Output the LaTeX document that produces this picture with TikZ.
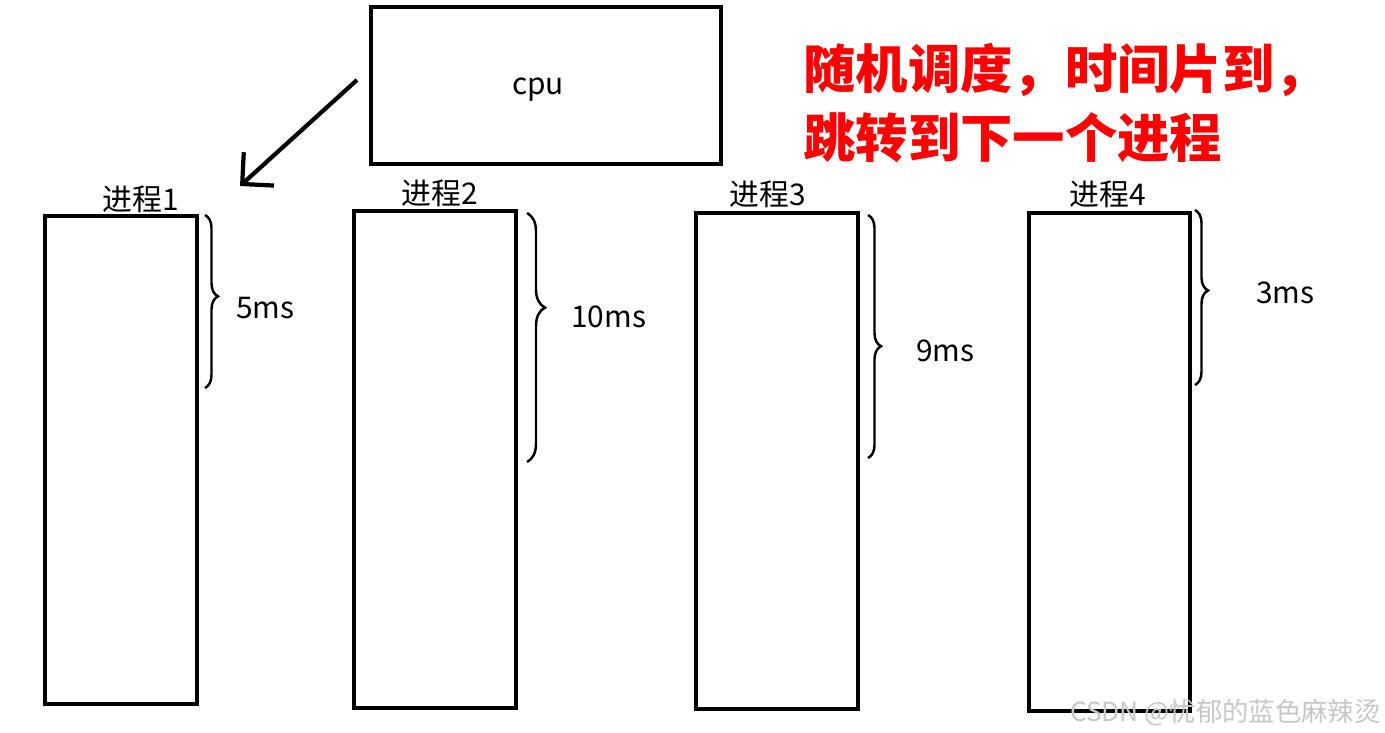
\documentclass[tikz,border=0pt]{standalone}
\usepackage{fontspec}
\setmainfont{Noto Sans CJK SC}
\usetikzlibrary{arrows.meta,decorations.pathreplacing}

\begin{document}
\begin{tikzpicture}[
    x=0.02cm, y=-0.02cm,
    box/.style={draw, line width=2.4pt, anchor=north west, inner sep=0pt},
    proclabel/.style={font=\fontsize{17}{20}\selectfont, anchor=base, inner sep=0pt},
    span/.style={decorate, decoration={brace, amplitude=0.26cm, #1}, line width=1.4pt},
    mslabel/.style={font=\fontsize{17}{20}\selectfont, anchor=base west, inner sep=0pt},
    notetext/.style={font=\fontsize{29.8}{38}\selectfont\bfseries, text=red, anchor=base west, inner sep=0pt},
    arrow/.style={-{Straight Barb[length=4.5mm, width=9mm]}, line width=2.4pt}
]
\path[use as bounding box] (0,0) rectangle (1385,733);

% CPU
\node[box, minimum width=7cm, minimum height=3.14cm] (cpu) at (369,5) {};
\node[font=\fontsize{17}{20}\selectfont, anchor=base] (cpulabel) at (538,95) {cpu};

% Processes
\node[box, minimum width=3.04cm, minimum height=9.76cm] (p1) at (43,214) {};
\node[box, minimum width=3.24cm, minimum height=9.94cm] (p2) at (352,209) {};
\node[box, minimum width=3.24cm, minimum height=9.92cm] (p3) at (694,211) {};
\node[box, minimum width=3.22cm, minimum height=9.96cm] (p4) at (1027,211) {};

\node[proclabel] (t1) at (141,211) {进程1};
\node[proclabel] (t2) at (440,205) {进程2};
\node[proclabel] (t3) at (768,206) {进程3};
\node[proclabel] (t4) at (1108,206) {进程4};

% Time slices
\coordinate (s1) at (205,215);  \coordinate (e1) at (205,388);
\coordinate (s2) at (527,213);  \coordinate (e2) at (527,462);
\coordinate (s3) at (868,215);  \coordinate (e3) at (868,458);
\coordinate (s4) at (1195,210); \coordinate (e4) at (1195,385);
\draw[span={aspect=0.47}] (s1) -- (e1);
\draw[span={aspect=0.38, amplitude=0.36cm}] (s2) -- (e2);
\draw[span={aspect=0.54}] (s3) -- (e3);
\draw[span={aspect=0.46}] (s4) -- (e4);

\node[mslabel] (ms1) at (236,318) {5ms};
\node[mslabel] (ms2) at (571,327) {10ms};
\node[mslabel] (ms3) at (916,361) {9ms};
\node[mslabel] (ms4) at (1256,303) {3ms};

% Arrow from cpu
\coordinate (from) at (357,80);
\coordinate (to) at (240,186);
\draw[arrow] (from) -- (to);

% Note
\node[notetext] (note1) at (803,89) {随机调度，时间片到，};
\node[notetext] (note2) at (803,158) {跳转到下一个进程};

% Watermark
\node[font=\fontsize{15}{18}\selectfont, text=black!22, anchor=base east, inner sep=0pt] (mark) at (1381,721) {CSDN @忧郁的蓝色麻辣烫};
\end{tikzpicture}
\end{document}
